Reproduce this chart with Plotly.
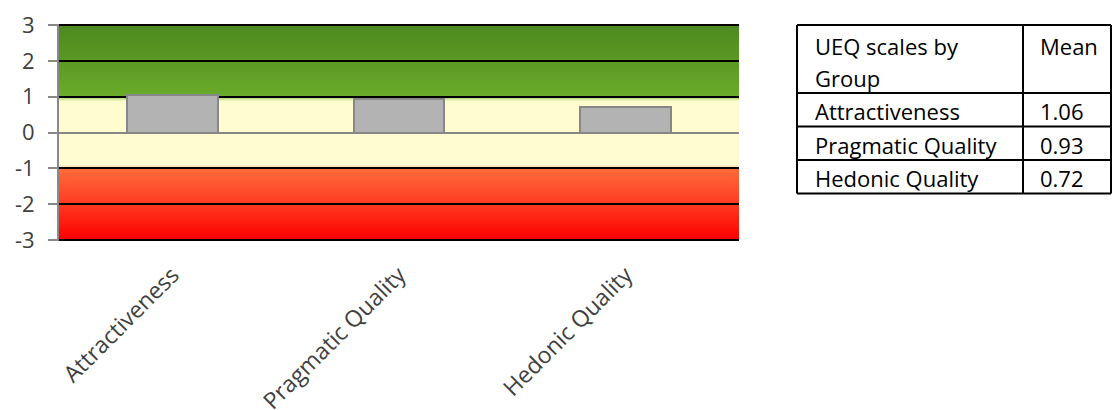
import numpy as np
import plotly.graph_objects as go

# UEQ scale means
scales = ["Attractiveness", "Pragmatic Quality", "Hedonic Quality"]
means = [1.06, 0.93, 0.72]
mean_labels = ["1.06", "0.93", "0.72"]
table_header = ["UEQ scales by<br>Group", "Mean"]
y_ticks = [-3, -2, -1, 0, 1, 2, 3]
y_tick_text = ["-3", "-2", "-1", "0", "1", "2", "3"]

FONT = "Open Sans"
TEXT = "#404040"

W, H = 1113, 410
ML, MR, MT, MB = 59, 0, 24, 169
PLOT_W = 680
Y_PAD = 0.03  # keeps the outer grid lines fully inside the plot area

# benchmark background: colour stops (value, rgb)
stops = [
    (-3.00, (255, 0, 0)),
    (-2.00, (255, 58, 34)),
    (-1.02, (255, 108, 60)),
    (-0.97, (255, 214, 170)),
    (-0.90, (255, 252, 208)),
    (0.86, (255, 252, 208)),
    (0.92, (222, 238, 170)),
    (0.97, (160, 206, 100)),
    (1.00, (108, 172, 44)),
    (2.00, (92, 152, 37)),
    (3.00, (78, 138, 32)),
]
sv = np.array([s[0] for s in stops])
sc = np.array([s[1] for s in stops], dtype=float)


def band_colour(v):
    rgb = [np.interp(v, sv, sc[:, k]) for k in range(3)]
    return "rgb(%d,%d,%d)" % tuple(int(round(c)) for c in rgb)


y_lo, y_hi = y_ticks[0] - Y_PAD, y_ticks[-1] + Y_PAD

shapes = []
# each strip runs to the top, so later strips cover earlier ones without seams
step = 0.01
for lo in np.arange(y_lo, y_hi - 1e-9, step):
    shapes.append(dict(
        type="rect", xref="x", yref="y", layer="below",
        x0=-0.5, x1=2.5, y0=lo, y1=y_hi,
        fillcolor=band_colour(lo + step / 2), line=dict(width=0),
    ))
# outer grid lines at the ends of the scale
for v in (y_ticks[0], y_ticks[-1]):
    shapes.append(dict(
        type="line", xref="x", yref="y", layer="between",
        x0=-0.5, x1=2.5, y0=v, y1=v, line=dict(color="black", width=1.5),
    ))

# ---- table drawn with lines and text (pixel layout -> paper coords) ----
plot_h = H - MT - MB
plot_w_total = W - ML - MR


def px(x):
    return (x - ML) / plot_w_total


def py(y):
    return (H - MB - y) / plot_h


col_edges = [797, 1023, 1111]
row_edges = [25, 93, 126.5, 160, 193.5]
for x in col_edges:
    shapes.append(dict(type="line", xref="paper", yref="paper",
                       x0=px(x), x1=px(x), y0=py(row_edges[0]), y1=py(row_edges[-1]),
                       line=dict(color="black", width=2)))
for y in row_edges:
    shapes.append(dict(type="line", xref="paper", yref="paper",
                       x0=px(col_edges[0]), x1=px(col_edges[-1]), y0=py(y), y1=py(y),
                       line=dict(color="black", width=2)))

text_x = [813, 1038]
annotations = []
tfont = dict(family=FONT, size=22, color="black")
line_gap = 32
for c, head in enumerate(table_header):
    for k, part in enumerate(head.split("<br>")):
        annotations.append(dict(
            xref="paper", yref="paper", x=px(text_x[c]), y=py(46 + k * line_gap),
            text=part, showarrow=False, xanchor="left", yanchor="middle", font=tfont,
        ))
for r in range(len(scales)):
    yc = (row_edges[r + 1] + row_edges[r + 2]) / 2 + 1.5
    for c, val in enumerate([scales[r], mean_labels[r]]):
        annotations.append(dict(
            xref="paper", yref="paper", x=px(text_x[c]), y=py(yc),
            text=val, showarrow=False, xanchor="left", yanchor="middle", font=tfont,
        ))

fig = go.Figure()
fig.add_trace(go.Bar(
    x=list(range(len(scales))), y=means, width=0.4,
    marker=dict(color="#b3b3b3", line=dict(color="#878787", width=2)),
    hoverinfo="skip", showlegend=False,
))

fig.update_layout(
    width=W, height=H,
    margin=dict(l=ML, r=MR, t=MT, b=MB, autoexpand=False),
    paper_bgcolor="white", plot_bgcolor="white",
    shapes=shapes, annotations=annotations, bargap=0,
    font=dict(family=FONT, color=TEXT),
)
fig.update_xaxes(
    domain=[0, PLOT_W / plot_w_total], range=[-0.5, 2.5],
    tickvals=list(range(len(scales))), ticktext=scales,
    tickangle=-45, showgrid=False, zeroline=False, showline=False,
    ticks="", ticklabelstandoff=15, automargin=False,
    tickfont=dict(family=FONT, size=23, color=TEXT),
)
fig.update_yaxes(
    range=[y_lo, y_hi], tickvals=y_ticks, ticktext=y_tick_text,
    showgrid=True, gridcolor="black", gridwidth=1.5,
    zeroline=True, zerolinecolor="#888888", zerolinewidth=2,
    showline=True, linecolor="#888888", linewidth=2,
    ticks="outside", ticklen=9, tickcolor="#888888", tickwidth=2,
    ticklabelstandoff=9, automargin=False,
    tickfont=dict(family=FONT, size=22, color=TEXT),
)

fig.write_html("out.html")
